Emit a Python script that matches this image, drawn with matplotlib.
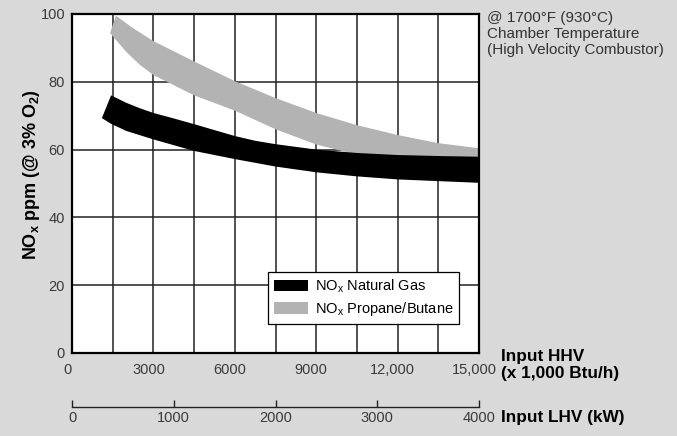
import numpy as np
import matplotlib
matplotlib.use('Agg')
from matplotlib import pyplot as plt
from matplotlib.transforms import ScaledTranslation

plt.rcParams['font.family'] = ['Liberation Sans', 'DejaVu Sans']
plt.rcParams['mathtext.fontset'] = 'custom'
plt.rcParams['mathtext.rm'] = 'Liberation Sans'
plt.rcParams['mathtext.bf'] = 'Liberation Sans:bold'
plt.rcParams['mathtext.it'] = 'Liberation Sans:italic'

# data (x = input HHV, 1000 Btu/h ; y = NOx ppm)
gas_upper_x = [1440, 2000, 2500, 3000, 3700, 4500, 6000, 6750, 7500, 9000, 10500, 12000, 13500, 15000]
gas_upper_y = [76.0, 73.8, 72.2, 70.8, 69.3, 67.5, 64.0, 62.6, 61.6, 60.0, 59.0, 58.4, 58.1, 57.9]
gas_lower_x = [1100, 1440, 2000, 3000, 4500, 6000, 7500, 9000, 10500, 12000, 13500, 15000]
gas_lower_y = [69.3, 67.6, 65.5, 63.0, 59.6, 57.2, 55.0, 53.3, 52.1, 51.2, 50.7, 50.2]

lp_upper_x = [1620, 2250, 3000, 4500, 6000, 7500, 9000, 10500, 12000, 13500, 15000]
lp_upper_y = [99.5, 95.8, 92.0, 86.0, 80.2, 75.2, 70.8, 67.2, 64.3, 61.9, 60.4]
lp_lower_x = [1400, 2000, 2500, 3000, 4500, 6000, 7500, 9000, 10500, 12000, 13500, 15000]
lp_lower_y = [94.4, 88.8, 85.0, 82.0, 76.0, 71.5, 66.0, 61.5, 58.5, 56.0, 54.5, 53.0]

hhv_ticks = [0, 3000, 6000, 9000, 12000, 15000]
hhv_labels = ['0', '3000', '6000', '9000', '12,000', '15,000']
lhv_ticks = [0, 1000, 2000, 3000, 4000]
y_ticks = [0, 20, 40, 60, 80, 100]

bg = '#d9d9d9'
grey = '#b3b3b3'
tick_col = '#3a3a3a'

fig = plt.figure(figsize=(6.77, 4.36), dpi=100, facecolor=bg)
ax = fig.add_axes([0.1064, 0.1904, 0.6012, 0.7775])
ax.set_facecolor('white')
ax.set_xlim(0, 15000)
ax.set_ylim(0, 100)

ax.set_xticks(hhv_ticks)
ax.set_xticklabels(hhv_labels)
ax.set_xticks(np.arange(0, 15001, 1500), minor=True)
ax.set_yticks(y_ticks)
ax.tick_params(axis='both', which='both', length=0, labelsize=10.5, labelcolor=tick_col)
ax.tick_params(axis='x', pad=7)
ax.tick_params(axis='y', pad=5)
ax.grid(True, which='both', axis='x', color='#222222', lw=1.1, zorder=1)
ax.grid(True, which='major', axis='y', color='#222222', lw=1.1, zorder=1)
ax.set_axisbelow(True)
for s in ax.spines.values():
    s.set_linewidth(1.6)
    s.set_color('black')
    s.set_zorder(5)

# tick labels sit a little left of their grid line in the original
shift = ScaledTranslation(-5 / 100, 0, fig.dpi_scale_trans)
for lab in ax.get_xticklabels():
    lab.set_transform(lab.get_transform() + shift)

# bands as polygons: upper edge left->right, lower edge right->left
ax.fill(lp_upper_x + lp_lower_x[::-1], lp_upper_y + lp_lower_y[::-1],
        color=grey, lw=0, zorder=2, label='NO$_\\mathrm{x}$ Propane/Butane')
ax.fill(gas_upper_x + gas_lower_x[::-1], gas_upper_y + gas_lower_y[::-1],
        color='black', lw=0, zorder=3, label='NO$_\\mathrm{x}$ Natural Gas')

h, l = ax.get_legend_handles_labels()
leg = ax.legend(h[::-1], l[::-1], loc='upper left', bbox_to_anchor=(0.482, 0.24),
                fontsize=10.5, frameon=True, fancybox=False, framealpha=1,
                edgecolor='black', handlelength=2.3, handleheight=0.85,
                borderpad=0.4, labelspacing=0.35, handletextpad=0.5,
                borderaxespad=0)
leg.get_frame().set_linewidth(0.9)
leg.set_zorder(6)

ax.set_ylabel('NO$_\\mathbf{x}$ ppm (@ 3% O$_\\mathbf{2}$)', fontsize=13,
              fontweight='bold')
ax.yaxis.set_label_coords(-0.074, 0.525)

# second scale (LHV, kW)
ax2 = fig.add_axes([0.1064, 0.0665, 0.6012, 0.0001])
ax2.set_facecolor('none')
ax2.set_xlim(0, 4000)
ax2.set_yticks([])
ax2.set_xticks(lhv_ticks)
for k in ['top', 'left', 'right']:
    ax2.spines[k].set_visible(False)
ax2.spines['bottom'].set_linewidth(1.0)
ax2.spines['bottom'].set_color('#222222')
ax2.tick_params(axis='x', direction='in', length=5, width=1.0, color='#222222',
                labelsize=10.5, labelcolor=tick_col, pad=3)

fig.text(501 / 677, 1 - 356 / 436, 'Input HHV', fontsize=12.4, fontweight='bold',
         va='center', ha='left')
fig.text(501 / 677, 1 - 373 / 436, '(x 1,000 Btu/h)', fontsize=12.4, fontweight='bold',
         va='center', ha='left')
fig.text(501 / 677, 1 - 417 / 436, 'Input LHV (kW)', fontsize=12.4, fontweight='bold',
         va='center', ha='left')
fig.text(487 / 677, 1 - 11 / 436,
         '@ 1700°F (930°C)\nChamber Temperature\n(High Velocity Combustor)',
         fontsize=11, color='#333333', va='top', ha='left', linespacing=1.2)

plt.savefig('out.png', dpi=100, facecolor=bg)
